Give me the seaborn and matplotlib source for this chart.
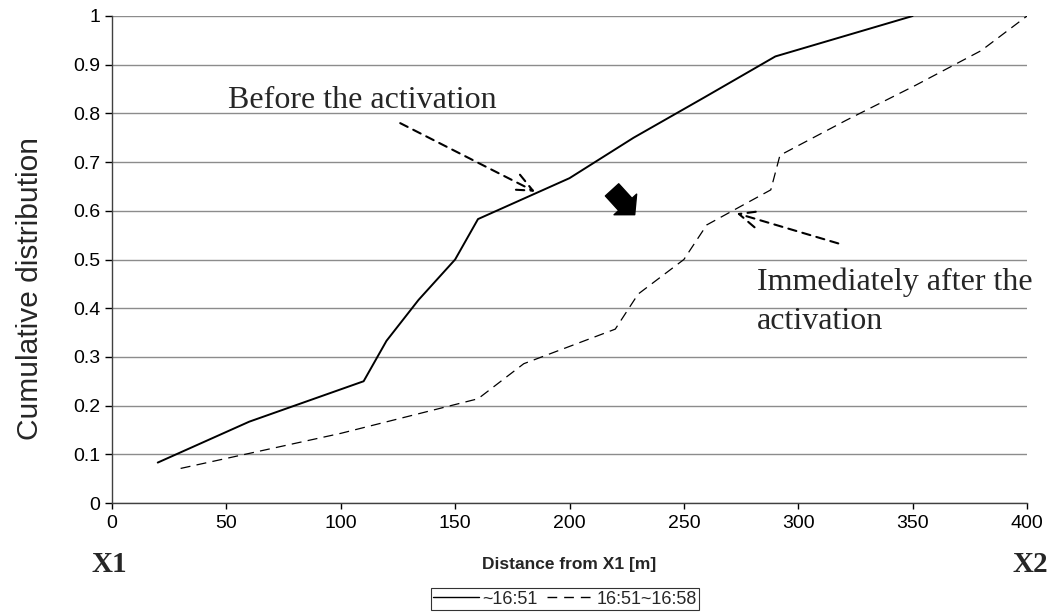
import matplotlib
matplotlib.use("Agg")
import matplotlib.pyplot as plt
import seaborn as sns
import pandas as pd
import numpy as np

# ---- data ----
before_x = [20, 60, 110, 120, 134, 150, 160, 200, 228, 259, 290, 350]
before_y = [0.083, 0.167, 0.25, 0.333, 0.417, 0.5, 0.583, 0.667, 0.75, 0.833, 0.917, 1.0]
after_x = [30, 100, 160, 180, 220, 230, 250, 260, 288, 292, 321, 351, 380, 400]
after_y = [0.071, 0.143, 0.214, 0.286, 0.357, 0.429, 0.5, 0.571, 0.643, 0.714, 0.786, 0.857, 0.929, 1.0]
series_labels = ["~16:51", "16:51~16:58"]
x_ticks = [0, 50, 100, 150, 200, 250, 300, 350, 400]
y_ticks = [0, 0.1, 0.2, 0.3, 0.4, 0.5, 0.6, 0.7, 0.8, 0.9, 1]
y_tick_labels = ["0", "0.1", "0.2", "0.3", "0.4", "0.5", "0.6", "0.7", "0.8", "0.9", "1"]

sns.set_theme(style="white")
plt.rcParams['font.family'] = ['Liberation Sans', 'DejaVu Sans']

fig = plt.figure(figsize=(10.57, 6.13), dpi=100)
ax = fig.add_axes([112/1057, 1 - 503/613, (1027-112)/1057, (503-16)/613])

df1 = pd.DataFrame({"x": before_x, "y": before_y})
df2 = pd.DataFrame({"x": after_x, "y": after_y})
sns.lineplot(data=df1, x="x", y="y", ax=ax, color="black", linewidth=1.4,
             label=series_labels[0], sort=False)
sns.lineplot(data=df2, x="x", y="y", ax=ax, color="black", linewidth=0.9,
             linestyle=(0, (8, 5)), label=series_labels[1], sort=False)

ax.set_xlim(0, 400)
ax.set_ylim(0, 1)
ax.set_xticks(x_ticks)
ax.set_xticklabels([str(t) for t in x_ticks])
ax.set_yticks(y_ticks)
ax.set_yticklabels(y_tick_labels)
ax.tick_params(axis='both', labelsize=14, colors='black', length=5, width=1,
               direction='out', bottom=True, left=True)
ax.tick_params(axis='x', pad=5, length=4)
ax.yaxis.grid(True, color='#8c8c8c', linewidth=1)
ax.xaxis.grid(False)
for s in ['top', 'right']:
    ax.spines[s].set_visible(False)
for s in ['left', 'bottom']:
    ax.spines[s].set_color('#404040')
    ax.spines[s].set_linewidth(1)

ax.set_xlabel("Distance from X1 [m]", fontsize=12.5, fontweight='bold', labelpad=18)
ax.set_ylabel("Cumulative distribution", fontsize=21.5)
ax.yaxis.set_label_coords(-0.074, 0.44)

leg = ax.legend(loc='upper center', bbox_to_anchor=(0.495, -0.1745), ncol=2,
                frameon=True, fontsize=13, fancybox=False, handlelength=2.55,
                columnspacing=0.55, handletextpad=0.15, borderpad=0.15,
                borderaxespad=0)
leg.get_frame().set_edgecolor('black')
leg.get_frame().set_linewidth(0.8)
hl = leg.legend_handles
hl[0].set_linewidth(1.0)
hl[1].set_linewidth(1.0)
hl[1].set_dashes((7, 5))

serif = ['Liberation Serif', 'DejaVu Serif']
ax.text(50.7, 0.811, "Before the activation", fontsize=23, family=serif,
        va='baseline', ha='left')
ax.text(282, 0.437, "Immediately after the", fontsize=23, family=serif,
        va='baseline', ha='left')
ax.text(282, 0.358, "activation", fontsize=23, family=serif,
        va='baseline', ha='left')

ax.annotate("", xy=(185, 0.639), xytext=(126, 0.78),
            arrowprops=dict(arrowstyle='->,head_length=0.9,head_width=0.4',
                            linestyle=(0, (4, 3)), color='black', lw=1.5,
                            mutation_scale=15, shrinkA=0, shrinkB=0))
ax.annotate("", xy=(273, 0.595), xytext=(317.5, 0.533),
            arrowprops=dict(arrowstyle='->,head_length=0.9,head_width=0.4',
                            linestyle=(0, (4, 3)), color='black', lw=1.5,
                            mutation_scale=15, shrinkA=0, shrinkB=0))
ax.annotate("", xy=(228.5, 0.592), xytext=(218.6, 0.643),
            arrowprops=dict(arrowstyle='simple,head_length=0.5,head_width=1.1,tail_width=0.65',
                            color='black', mutation_scale=20,
                            shrinkA=0, shrinkB=0))

fig.text(109/1057, 1 - 565/613, "X1", fontsize=21, fontweight='bold',
         family=serif, ha='center', va='center')
fig.text(1030/1057, 1 - 565/613, "X2", fontsize=21, fontweight='bold',
         family=serif, ha='center', va='center')

fig.savefig("out.png", dpi=100)
